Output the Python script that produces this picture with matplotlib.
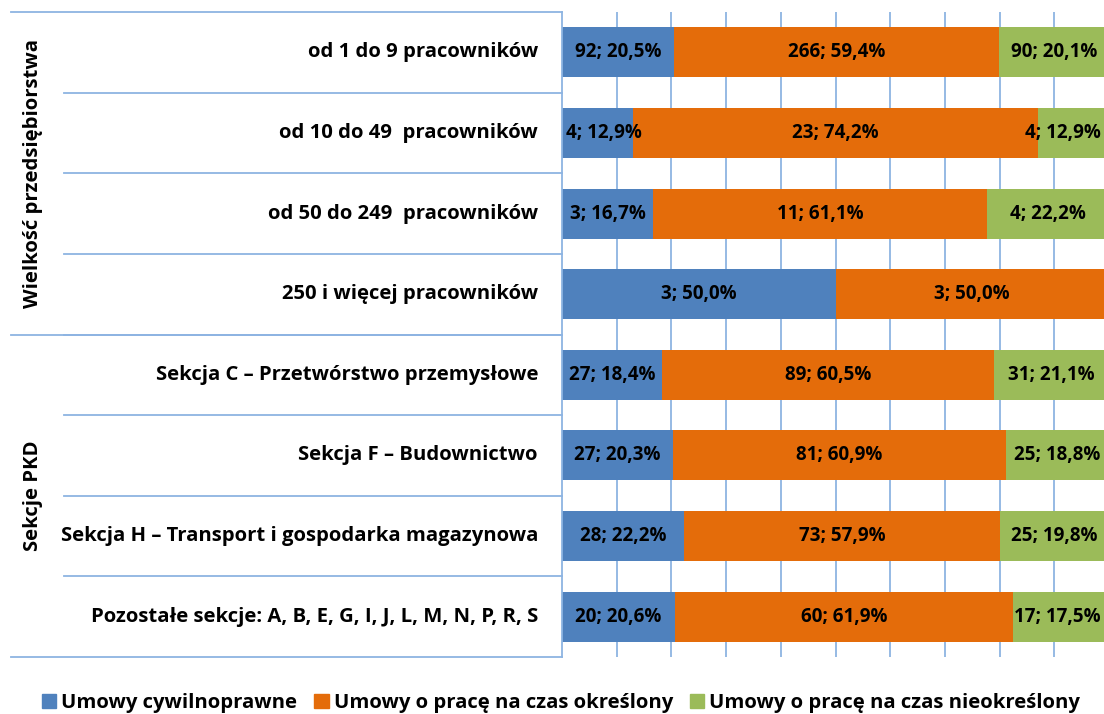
import matplotlib.pyplot as plt
from matplotlib.patches import Patch
import numpy as np

plt.rcParams['font.family'] = ['Open Sans', 'DejaVu Sans']
plt.rcParams['font.weight'] = 'bold'

# Data
categories = ['od 1 do 9 pracowników',
              'od 10 do 49  pracowników',
              'od 50 do 249  pracowników',
              '250 i więcej pracowników',
              'Sekcja C – Przetwórstwo przemysłowe',
              'Sekcja F – Budownictwo',
              'Sekcja H – Transport i gospodarka magazynowa',
              'Pozostałe sekcje: A, B, E, G, I, J, L, M, N, P, R, S']
groups = ['Wielkość przedsiębiorstwa', 'Sekcje PKD']
group_sizes = [4, 4]
series = ['Umowy cywilnoprawne',
          'Umowy o pracę na czas określony',
          'Umowy o pracę na czas nieokreślony']
cywilnoprawne = [92, 4, 3, 3, 27, 27, 28, 20]
okreslony = [266, 23, 11, 3, 89, 81, 73, 60]
nieokreslony = [90, 4, 4, 0, 31, 25, 25, 17]
colors = ['#4F81BD', '#E46C0A', '#9BBB59']
line_col = '#8DB4E2'
fs = 14.6      # category / legend text
fs_lab = 13.5  # data labels

counts = np.array([cywilnoprawne, okreslony, nieokreslony], dtype=float)
shares = counts / counts.sum(axis=0)

W, H = 1104, 714
fig = plt.figure(figsize=(W / 100, H / 100), dpi=100)
ax = fig.add_axes([562 / W, (H - 657) / H, 547 / W, 645 / H])

y = np.arange(len(categories)) + 0.5
left = np.zeros(len(categories))
labels = []
for k in range(3):
    ax.barh(y, shares[k], left=left, height=0.62, color=colors[k],
            label=series[k], zorder=2)
    for i in range(len(categories)):
        if counts[k, i] > 0:
            txt = '%d; %s%%' % (counts[k, i], ('%.1f' % (shares[k, i] * 100)).replace('.', ','))
            t = ax.text(left[i] + shares[k, i] / 2, y[i], txt, ha='center', va='center',
                        fontsize=fs_lab, fontweight='bold', color='black', zorder=3)
            labels.append(t)
    left += shares[k]

ax.set_xlim(0, 1)
ax.set_ylim(len(categories), 0)
ax.set_xticks(np.arange(0.1, 1.0, 0.1))
ax.set_yticks([])
ax.tick_params(axis='x', length=0, labelbottom=False)
ax.grid(axis='x', color=line_col, linewidth=1.3, zorder=0)
for s in ['top', 'right', 'bottom']:
    ax.spines[s].set_visible(False)
ax.spines['left'].set_color(line_col)
ax.spines['left'].set_linewidth(1.3)

# category labels and table lines
tr = ax.get_yaxis_transform()
x_outer = (11 - 562) / 547
x_inner = (64 - 562) / 547
x_text = (538 - 562) / 547
x_group = (33 - 562) / 547
for i, c in enumerate(categories):
    ax.text(x_text, y[i], c, transform=tr, ha='right', va='center',
            fontsize=fs, fontweight='bold', clip_on=False)
for b in range(1, len(categories)):
    ax.plot([x_inner, 0], [b, b], transform=tr, color=line_col, lw=1.3, clip_on=False)
start = 0
for g, n in zip(groups, group_sizes):
    ax.plot([x_outer, 0], [start, start], transform=tr, color=line_col, lw=1.3, clip_on=False)
    ax.text(x_group, start + n / 2, g, transform=tr, rotation=90, ha='center', va='center',
            fontsize=fs, fontweight='bold', clip_on=False)
    start += n
ax.plot([x_outer, 0], [start, start], transform=tr, color=line_col, lw=1.3, clip_on=False)

# keep data labels inside the visible plot area (as Excel does)
fig.canvas.draw()
r = fig.canvas.get_renderer()
for t in labels:
    bb = t.get_window_extent(r)
    dx = 0
    if bb.x0 < ax.bbox.x0 + 4:
        dx = ax.bbox.x0 + 4 - bb.x0
    elif bb.x1 > W - 3:
        dx = (W - 3) - bb.x1
    if dx:
        x0, y0 = t.get_position()
        t.set_position((x0 + dx / ax.bbox.width, y0))

handles = [Patch(color=colors[k], label=series[k]) for k in range(3)]
fig.legend(handles=handles, loc='center', bbox_to_anchor=(561 / W, (H - 703) / H), ncol=3,
           frameon=False, handlelength=0.7, handleheight=0.7,
           handletextpad=0.25, columnspacing=0.85, prop={'weight': 'bold', 'size': fs})

fig.savefig('out.png', dpi=100)
